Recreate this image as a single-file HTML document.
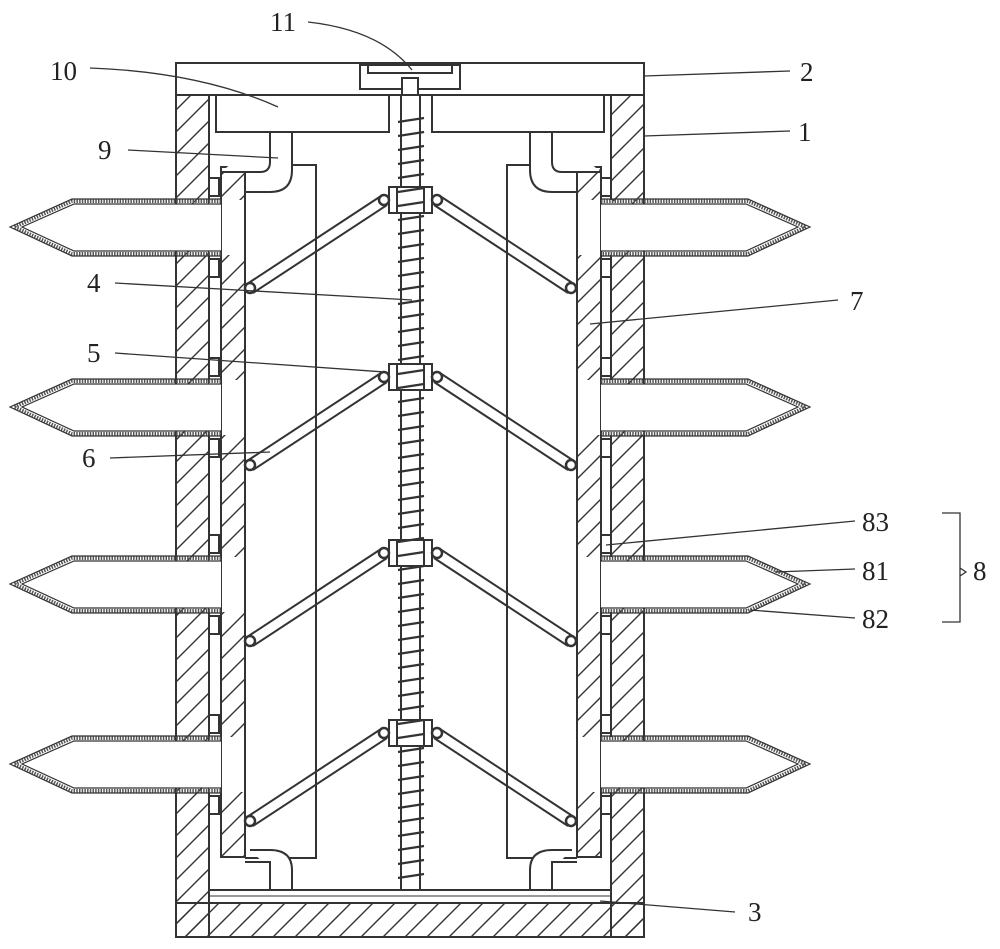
<!DOCTYPE html>
<html><head><meta charset="utf-8"><style>
html,body{margin:0;padding:0;background:#fff;}
svg{display:block}
text{font-family:"Liberation Serif",serif;font-size:27px;fill:#222}
</style></head><body>
<svg id="s" width="1000" height="949" viewBox="0 0 1000 949" xmlns="http://www.w3.org/2000/svg">
<defs>
<pattern id="h" patternUnits="userSpaceOnUse" width="22" height="22">
<path d="M-2,24 L24,-2 M-13,13 L13,-13 M9,35 L35,9" stroke="#333" stroke-width="1.4"/>
</pattern>
</defs>
<g id="g" fill="none" stroke="#333" stroke-width="2">
<rect x="176" y="63" width="468" height="32" fill="#fff"/>
<rect x="360" y="65" width="100" height="24" fill="#fff"/>
<rect x="368" y="65" width="84" height="8"/>
<rect x="176" y="95" width="33" height="842" fill="url(#h)"/>
<rect x="611" y="95" width="33" height="842" fill="url(#h)"/>
<rect x="176" y="903" width="468" height="34" fill="url(#h)"/>
<rect x="209" y="890" width="402" height="13" fill="#fff"/>
<line x1="209" y1="896" x2="611" y2="896" stroke-width="1"/>
<rect x="216" y="95" width="173" height="37" fill="#fff"/>
<rect x="432" y="95" width="172" height="37" fill="#fff"/>
<rect x="221" y="167" width="24" height="690" fill="url(#h)"/>
<rect x="577" y="167" width="24" height="690" fill="url(#h)"/>
<path d="M245,165 H316 V858 H245"/>
<path d="M577,165 H507 V858 H577"/>
<path d="M270,132 V162 Q270,172 260,172 H221 M292,132 V170 Q292,192 270,192 H245" fill="#fff"/>
<path d="M552,132 V162 Q552,172 562,172 H601 M530,132 V170 Q530,192 552,192 H577" fill="#fff"/>
<path d="M270,890 V862 H245 M292,890 V870 Q292,850 270,850 H250" fill="#fff"/>
<path d="M552,890 V862 H577 M530,890 V870 Q530,850 552,850 H572" fill="#fff"/>
<rect x="401" y="95" width="19" height="795" fill="#fff"/>
<rect x="402" y="78" width="16" height="17" fill="#fff"/>
</g>
<g id="dyn" fill="none" stroke="#333" stroke-width="2"></g>
<g stroke="#333" stroke-width="1.3" fill="none">
<path d="M308,22 Q380,30 412,70"/>
<path d="M90,68 Q200,72 278,107"/>
<path d="M790,71 L644,76"/>
<path d="M790,131 L644,136"/>
<path d="M128,150 L278,158"/>
<path d="M115,283 L412,300"/>
<path d="M838,300 L590,324"/>
<path d="M115,353 L385,372"/>
<path d="M110,458 L270,452"/>
<path d="M855,521 L606,545"/>
<path d="M855,569 L775,572"/>
<path d="M855,618 L750,610"/>
<path d="M735,912 L600,901"/>
<path d="M942,513 H960 V622 H942 M960,568 L966,572 L960,576"/>
</g>
<g>
<text x="270" y="31">11</text><text x="50" y="80">10</text><text x="800" y="81">2</text>
<text x="798" y="141">1</text><text x="98" y="159">9</text><text x="87" y="292">4</text>
<text x="850" y="310">7</text><text x="87" y="362">5</text><text x="82" y="467">6</text>
<text x="862" y="531">83</text><text x="862" y="580">81</text><text x="862" y="628">82</text>
<text x="973" y="580">8</text><text x="748" y="921">3</text>
</g>
</svg>
<script>
var d=document.getElementById('dyn'),h="";
[200,380,557,737].forEach(function(y){
 var b=y+55,m=y+27;
 h+='<rect x="209" y="'+y+'" width="36" height="55" fill="#fff" stroke="none"/>';
 h+='<path d="M221,'+y+' V'+b+' M245,'+y+' V'+b+'"/>';
 h+='<path d="M221,'+(y+1)+' H72 L14,'+m+' L72,'+(b-1)+' H221" stroke-width="4" stroke="#555" stroke-dasharray="1.5 1.2"/>';
 h+='<path d="M221,'+(y-1)+' H72 L10,'+m+' L72,'+(b+1)+' H221" stroke-width="1.2"/>';
 h+='<path d="M221,'+(y+4)+' H74 L22,'+m+' L74,'+(b-4)+' H221" stroke-width="1.2" fill="#fff"/>';
 h+='<rect x="209" y="'+(y-22)+'" width="10" height="18"/><rect x="209" y="'+(b+4)+'" width="10" height="18"/>';
 h+='<rect x="577" y="'+y+'" width="36" height="55" fill="#fff" stroke="none"/>';
 h+='<path d="M577,'+y+' V'+b+' M601,'+y+' V'+b+'"/>';
 h+='<path d="M601,'+(y+1)+' H748 L806,'+m+' L748,'+(b-1)+' H601" stroke-width="4" stroke="#555" stroke-dasharray="1.5 1.2"/>';
 h+='<path d="M601,'+(y-1)+' H748 L810,'+m+' L748,'+(b+1)+' H601" stroke-width="1.2"/>';
 h+='<path d="M601,'+(y+4)+' H746 L798,'+m+' L746,'+(b-4)+' H601" stroke-width="1.2" fill="#fff"/>';
 h+='<rect x="601" y="'+(y-22)+'" width="10" height="18"/><rect x="601" y="'+(b+4)+'" width="10" height="18"/>';
});
[200,377,553,733].forEach(function(y){
 var w=y+88;
 h+='<path d="M381,'+(y-4)+' L247,'+(w-4)+' M387,'+(y+5)+' L253,'+(w+5)+'" stroke-width="2"/>';
 h+='<path d="M440,'+(y-4)+' L574,'+(w-4)+' M434,'+(y+5)+' L568,'+(w+5)+'" stroke-width="2"/>';
 h+='<rect x="389" y="'+(y-13)+'" width="43" height="26" fill="#fff"/><line x1="397" y1="'+(y-13)+'" x2="397" y2="'+(y+13)+'"/><line x1="424" y1="'+(y-13)+'" x2="424" y2="'+(y+13)+'"/>';
 h+='<circle cx="384" cy="'+y+'" r="5" fill="#fff" stroke-width="2.5"/><circle cx="437" cy="'+y+'" r="5" fill="#fff" stroke-width="2.5"/>';
 h+='<circle cx="250" cy="'+w+'" r="5" fill="#fff" stroke-width="2.5"/><circle cx="571" cy="'+w+'" r="5" fill="#fff" stroke-width="2.5"/>';
});
for(var y=118;y<888;y+=14){h+='<path d="M398,'+(y+4)+' L424,'+y+'" stroke-width="2.2"/>';}
d.innerHTML=h;
</script>
</body></html>
